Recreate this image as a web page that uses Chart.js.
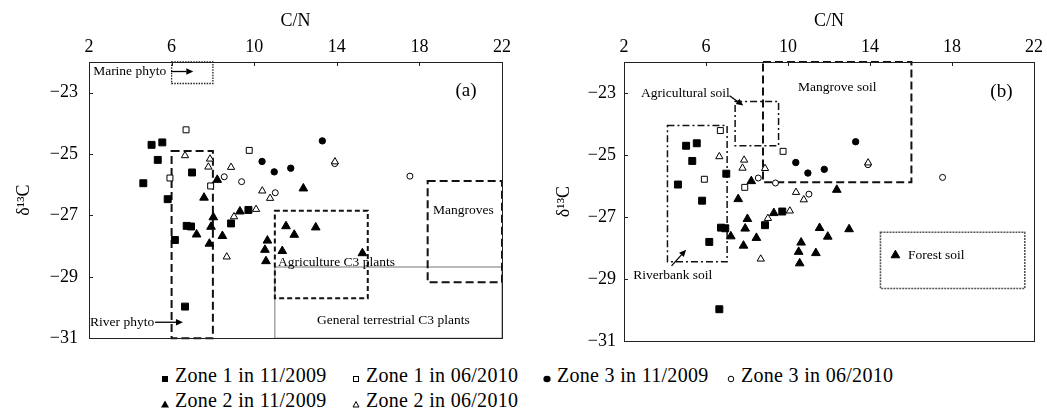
<!DOCTYPE html>
<html><head><meta charset="utf-8">
<script src="https://cdn.jsdelivr.net/npm/chart.js@4.4.1/dist/chart.umd.min.js"></script>
<style>
html,body{margin:0;padding:0;background:#fff;width:1047px;height:416px;overflow:hidden;font-family:'Liberation Serif',serif;}
#ca{position:absolute;left:0;top:0;width:520px;height:360px;}
#cb{position:absolute;left:534px;top:0;width:513px;height:360px;}
.lt{position:absolute;font-size:20px;letter-spacing:0.3px;color:#000;white-space:nowrap;height:24px;line-height:24px;}
.mk{position:absolute;width:10px;height:10px;}
</style></head><body>
<canvas id="ca" width="520" height="360"></canvas>
<canvas id="cb" width="513" height="360"></canvas>
<div id="legend"></div>
<script>
// ---------- data ----------
const xTicks = [2, 6, 10, 14, 18, 22];
const yTicks = [-31, -29, -27, -25, -23];

const seriesNames = ['Zone 1 in 11/2009', 'Zone 1 in 06/2010', 'Zone 3 in 11/2009',
                     'Zone 3 in 06/2010', 'Zone 2 in 11/2009', 'Zone 2 in 06/2010'];

const zone1Nov2009 = [[5.03,-24.70],[5.55,-24.62],[5.33,-25.19],[4.63,-25.95],[6.99,-25.60],[5.81,-26.47],
                      [6.73,-27.34],[6.94,-27.36],[6.16,-27.80],[6.65,-29.97],[8.88,-27.26],[9.72,-26.82]];
const zone1Jun2010 = [[6.70,-24.21],[9.76,-24.88],[5.92,-25.78],[7.89,-26.04]];
const zone3Nov2009 = [[13.30,-24.57],[10.38,-25.24],[10.97,-25.58],[11.77,-25.46]];
const zone3Jun2010 = [[8.55,-25.74],[9.39,-25.90],[11.02,-26.26],[13.90,-25.31],[17.54,-25.72]];
const zone2Nov2009 = [[8.21,-25.84],[7.57,-26.42],[8.02,-27.06],[7.91,-27.37],[7.21,-27.62],[8.46,-27.67],
                      [7.83,-27.92],[9.31,-26.87],[10.64,-27.82],[10.52,-28.12],[10.57,-28.49],[11.36,-28.16],
                      [11.54,-27.35],[11.94,-27.63],[12.98,-27.39],[12.38,-26.12],[15.24,-28.23]];
const zone2Jun2010 = [[6.65,-25.05],[7.86,-25.16],[7.78,-25.42],[8.88,-25.43],[13.91,-25.25],[10.39,-26.20],
                      [10.77,-26.44],[9.02,-27.04],[10.09,-26.80],[8.67,-28.35]];

// source ranges [C/N min, C/N max, d13C min, d13C max]
const marinePhyto   = [6, 8, -22.7, -22];
const riverPhyto    = [6, 8, -31, -24.9];
const agriC3        = [11, 15.5, -29.7, -26.85];
const generalC3     = [11, 22, -31, -28.68];
const mangroves     = [18.4, 22, -29.18, -25.88];
const agriSoil      = [7.42, 9.54, -24.7, -23.27];
const mangroveSoil  = [8.78, 16.02, -25.88, -22];
const riverbankSoil = [4.12, 7.03, -28.44, -24.05];
const forestSoil    = [14.51, 21.55, -29.3, -27.49];

// ---------- styles ----------
const FONT = "'Liberation Serif', 'Times New Roman', serif";
const seriesStyle = [
  {pointStyle:'rect', pointRadius:4.9, backgroundColor:'#000', borderColor:'#000', borderWidth:1},
  {pointStyle:'rect', pointRadius:4.2, backgroundColor:'#fff', borderColor:'#000', borderWidth:1},
  {pointStyle:'circle', pointRadius:3.2, backgroundColor:'#000', borderColor:'#000', borderWidth:1},
  {pointStyle:'circle', pointRadius:3.0, backgroundColor:'#fff', borderColor:'#000', borderWidth:1},
  {pointStyle:'triangle', pointRadius:5.0, backgroundColor:'#000', borderColor:'#000', borderWidth:1},
  {pointStyle:'triangle', pointRadius:4.2, backgroundColor:'#fff', borderColor:'#000', borderWidth:1}
];
const seriesData = [zone1Nov2009, zone1Jun2010, zone3Nov2009, zone3Jun2010, zone2Nov2009, zone2Jun2010];
const drawOrder = [1, 0, 5, 3, 2, 4]; // first = on top

const dashLong  = {dash:[8,4], width:2, color:'#111'};
const dashShort = {dash:[5,3], width:2, color:'#111'};
const dotted    = {dash:[1.5,1.2], width:1.3, color:'#222'};
const dashDot   = {dash:[7,3,2,3], width:1.5, color:'#111'};
const thinSolid = {dash:[], width:1, color:'#777'};
const fineDot   = {dash:[2,1], width:1.6, color:'#555'};

const panelA = {
  boxes: [
    {r: generalC3, s: thinSolid},
    {r: marinePhyto, s: dotted},
    {r: riverPhyto, s: dashLong},
    {r: agriC3, s: dashShort},
    {r: mangroves, s: dashLong}
  ],
  texts: [
    {t:'Marine phyto', x:2.2, y:-22.31, align:'left'},
    {t:'River phyto', x:2.05, y:-30.48, align:'left'},
    {t:'Agriculture C3 plants', x:11.15, y:-28.54, align:'left'},
    {t:'General terrestrial C3 plants', x:16.74, y:-30.42, align:'center'},
    {t:'Mangroves', x:20.13, y:-26.85, align:'center'},
    {t:'(a)', x:20.26, y:-22.96, align:'center', big:true}
  ],
  arrows: [
    {from:[5.97,-22.31], to:[7.05,-22.31]},
    {from:[5.2,-30.48], to:[6.55,-30.48]}
  ]
};
const panelB = {
  boxes: [
    {r: agriSoil, s: dashDot},
    {r: mangroveSoil, s: dashLong},
    {r: riverbankSoil, s: dashDot},
    {r: forestSoil, s: fineDot}
  ],
  texts: [
    {t:'Agricultural soil', x:2.83, y:-23.03, align:'left'},
    {t:'Mangrove soil', x:12.4, y:-22.82, align:'center'},
    {t:'Riverbank soil', x:2.45, y:-28.89, align:'left'},
    {t:'Forest soil', x:15.85, y:-28.25, align:'left'},
    {t:'(b)', x:20.41, y:-22.96, align:'center', big:true}
  ],
  arrows: [
    {from:[7.15,-23.09], to:[7.82,-23.4]},
    {from:[4.32,-28.57], to:[5.03,-28.05]}
  ]
};

// ---------- plugin ----------
function arrow(ctx, x1, y1, x2, y2) {
  const a = Math.atan2(y2 - y1, x2 - x1), h = 7, w = 3.2;
  ctx.beginPath(); ctx.moveTo(x1, y1);
  ctx.lineTo(x2 - h * Math.cos(a), y2 - h * Math.sin(a)); ctx.stroke();
  ctx.beginPath(); ctx.moveTo(x2, y2);
  ctx.lineTo(x2 - h * Math.cos(a) + w * Math.sin(a), y2 - h * Math.sin(a) - w * Math.cos(a));
  ctx.lineTo(x2 - h * Math.cos(a) - w * Math.sin(a), y2 - h * Math.sin(a) + w * Math.cos(a));
  ctx.closePath(); ctx.fill();
}
const panelPlugin = {
  id: 'panel',
  beforeDatasetsDraw(chart, args, opts) {
    const {ctx, scales: {x, y}} = chart;
    const p = opts.panel;
    ctx.save();
    p.boxes.forEach(b => {
      const x1 = x.getPixelForValue(b.r[0]), x2 = x.getPixelForValue(b.r[1]);
      const y1 = y.getPixelForValue(b.r[2]), y2 = y.getPixelForValue(b.r[3]);
      ctx.setLineDash(b.s.dash); ctx.lineWidth = b.s.width; ctx.strokeStyle = b.s.color;
      ctx.strokeRect(Math.min(x1, x2), Math.min(y1, y2), Math.abs(x2 - x1), Math.abs(y2 - y1));
    });
    ctx.setLineDash([]);
    ctx.fillStyle = '#000'; ctx.textBaseline = 'middle';
    p.texts.forEach(t => {
      ctx.font = (t.big ? '19px ' : '13.5px ') + FONT;
      ctx.textAlign = t.align;
      ctx.fillText(t.t, x.getPixelForValue(t.x), y.getPixelForValue(t.y));
    });
    ctx.strokeStyle = '#000'; ctx.lineWidth = 1.3;
    p.arrows.forEach(a => arrow(ctx, x.getPixelForValue(a.from[0]), y.getPixelForValue(a.from[1]),
                                     x.getPixelForValue(a.to[0]), y.getPixelForValue(a.to[1])));
    ctx.restore();
  },
  afterDraw(chart) {
    const {ctx, chartArea: c, scales: {x, y}} = chart;
    ctx.save();
    ctx.strokeStyle = '#222'; ctx.lineWidth = 1; ctx.setLineDash([]);
    ctx.strokeRect(Math.round(c.left) + 0.5, Math.round(c.top) + 0.5,
                   Math.round(c.right - c.left), Math.round(c.bottom - c.top));
    ctx.beginPath();
    x.ticks.forEach(t => { const px = Math.round(x.getPixelForValue(t.value)) + 0.5;
      ctx.moveTo(px, c.top); ctx.lineTo(px, c.top + 4); });
    y.ticks.forEach(t => { const py = Math.round(y.getPixelForValue(t.value)) + 0.5;
      ctx.moveTo(c.left, py); ctx.lineTo(c.left + 4, py); });
    ctx.stroke();
    ctx.restore();
  }
};

function fmt(v) { return v < 0 ? '\u2212' + Math.abs(v) : String(v); }

function makeChart(id, panel, yWidth, rightPad, yTitlePad, yTickPad) {
  const datasets = drawOrder.map(i => Object.assign({
    label: seriesNames[i],
    data: seriesData[i].map(p => ({x: p[0], y: p[1]}))
  }, seriesStyle[i]));
  return new Chart(document.getElementById(id), {
    type: 'scatter',
    data: {datasets},
    options: {
      responsive: false, animation: false, events: [],
      layout: {padding: {left: 0, right: rightPad, top: 0, bottom: 18}},
      plugins: {legend: {display: false}, tooltip: {enabled: false}, panel: {panel}},
      scales: {
        x: {
          type: 'linear', position: 'top', min: 2, max: 22,
          afterBuildTicks: s => { s.ticks = xTicks.map(v => ({value: v})); },
          afterFit: s => { s.height = 62; },
          grid: {display: false, drawTicks: false},
          border: {display: false},
          ticks: {padding: 4, color: '#000', font: {family: FONT, size: 18}, callback: fmt, maxRotation: 0},
          title: {display: true, text: 'C/N', color: '#000', font: {family: FONT, size: 18}, padding: {top: 10, bottom: 0}}
        },
        y: {
          type: 'linear', position: 'left', min: -31, max: -22,
          afterBuildTicks: s => { s.ticks = yTicks.map(v => ({value: v})); },
          afterFit: s => { s.width = yWidth; },
          grid: {display: false, drawTicks: false},
          border: {display: false},
          ticks: {padding: yTickPad, color: '#000', font: {family: FONT, size: 18}, callback: fmt},
          title: {display: true, text: '\u03b4\u00b9\u00b3C', color: '#000', font: {family: FONT, size: 18}, padding: {top: yTitlePad, bottom: 0}}
        }
      }
    },
    plugins: [panelPlugin]
  });
}
makeChart('ca', panelA, 89, 18, 13, 11);
makeChart('cb', panelB, 90, 11, 19, 8);

// ---------- legend ----------
const legendPos = [[165,375],[356,375],[547,375],[731,375],[165,400],[356,400]];
const markerSvg = [
  '<rect x="2" y="2" width="6" height="6" fill="#000"/>',
  '<rect x="2.5" y="2.5" width="5" height="5" fill="#fff" stroke="#000" stroke-width="1"/>',
  '<ellipse cx="5" cy="5" rx="3.6" ry="3.2" fill="#000"/>',
  '<circle cx="5" cy="5" r="2.8" fill="#fff" stroke="#000" stroke-width="1"/>',
  '<polygon points="5,1.5 9,8.5 1,8.5" fill="#000"/>',
  '<polygon points="5,2.5 8,8 2,8" fill="#fff" stroke="#000" stroke-width="1"/>'
];
const leg = document.getElementById('legend');
seriesNames.forEach((n, i) => {
  const [mx, my] = legendPos[i];
  const m = document.createElement('div');
  m.className = 'mk'; m.style.left = (mx - 5) + 'px'; m.style.top = (my - 5) + 'px';
  m.innerHTML = '<svg width="10" height="10" viewBox="0 0 10 10">' + markerSvg[i] + '</svg>';
  leg.appendChild(m);
  const t = document.createElement('div');
  t.className = 'lt'; t.textContent = n;
  t.style.left = (mx + 10) + 'px'; t.style.top = (my - 12) + 'px';
  leg.appendChild(t);
});
</script></body></html>
